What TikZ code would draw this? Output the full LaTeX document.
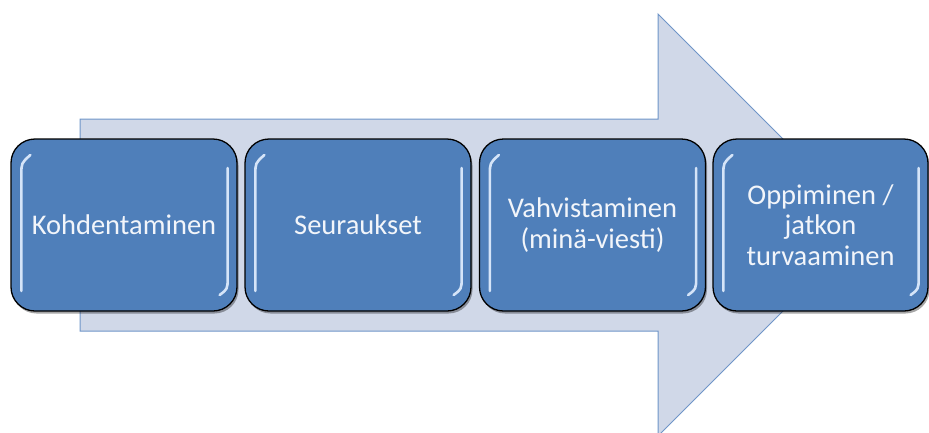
\documentclass[tikz,border=0pt]{standalone}
\usepackage{fontspec}
\setmainfont{Carlito}
\usetikzlibrary{shadows}
\definecolor{boxblue}{HTML}{4F7FBA}
\definecolor{arrowfill}{HTML}{D0D8E8}
\definecolor{arrowline}{HTML}{6F95C8}
\definecolor{txt}{HTML}{F2F5FA}
\definecolor{hl}{HTML}{E4F0FF}
\tikzset{
  stepbox/.style={draw=black, line width=1.3pt, fill=boxblue, rounded corners=24pt,
    minimum height=172pt, text=txt, align=center, inner sep=4pt,
    font=\fontsize{28.5}{30.5}\selectfont,
    drop shadow={shadow xshift=1.5pt, shadow yshift=-2.5pt, opacity=0.35, fill=black}},
  bigarrow/.style={draw=arrowline, line width=1pt, fill=arrowfill},
  gloss/.style={draw=hl, line width=2.6pt, opacity=0.9, line cap=round}
}
\begin{document}
\begin{tikzpicture}[x=1pt,y=-1pt]
\useasboundingbox (0,0) rectangle (929,432);
\draw[bigarrow] (80,119) -- (658,119) -- (658,14) -- (869,225) -- (658,436) -- (658,331) -- (80,331) -- cycle;
\node[stepbox, minimum width=226pt] (b1) at (124,225) {Kohdentaminen};
\node[stepbox, minimum width=226pt] (b2) at (358,225) {Seuraukset};
\node[stepbox, minimum width=226pt] (b3) at (592.5,225) {Vahvistaminen\\(minä-viesti)};
\node[stepbox, minimum width=215pt] (b4) at (820.5,225) {Oppiminen /\\jatkon\\turvaaminen};
\foreach \b in {b1,b2,b3,b4}{
  \draw[gloss] ([xshift=11pt,yshift=-66pt]\b.west) -- ([xshift=11pt,yshift=50pt]\b.west)
     .. controls ([xshift=11pt,yshift=62pt]\b.west) .. ([xshift=20pt,yshift=70pt]\b.west);
  \draw[gloss] ([xshift=-10pt,yshift=57pt]\b.east) -- ([xshift=-10pt,yshift=-52pt]\b.east)
     .. controls ([xshift=-10pt,yshift=-64pt]\b.east) .. ([xshift=-18pt,yshift=-70pt]\b.east);
}
\end{tikzpicture}
\end{document}
